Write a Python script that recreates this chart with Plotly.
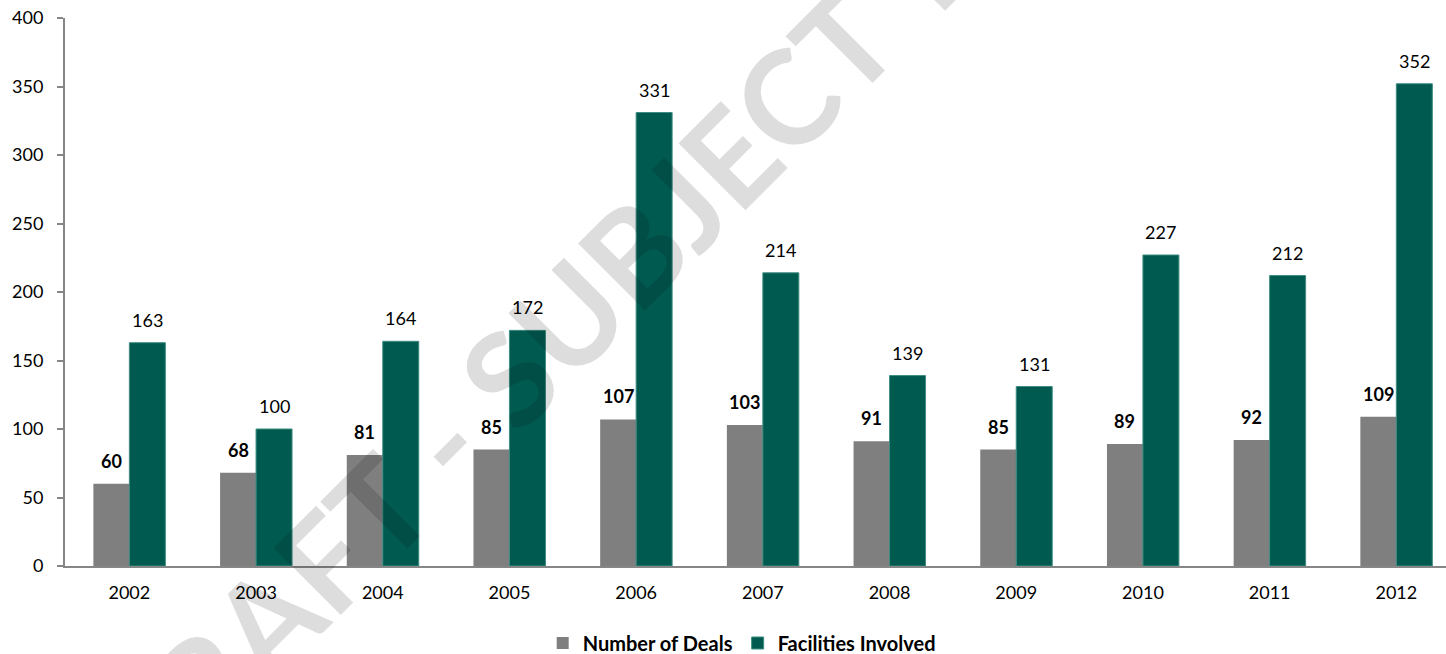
import plotly.graph_objects as go

# Annual deal activity
years = ["2002", "2003", "2004", "2005", "2006", "2007", "2008", "2009", "2010", "2011", "2012"]
number_of_deals = [60, 68, 81, 85, 107, 103, 91, 85, 89, 92, 109]
facilities_involved = [163, 100, 164, 172, 331, 214, 139, 131, 227, 212, 352]

GRAY = "#7f7f7f"
GREEN = "#005a50"
AXIS = "#868686"
FONT = "Lato, 'Open Sans', sans-serif"

x_idx = list(range(len(years)))
bargap = 0.432
half = (1 - bargap) / 4  # offset of each bar centre from the group centre

fig = go.Figure()
fig.add_trace(go.Bar(
    name="Number of Deals", x=x_idx, y=number_of_deals,
    marker=dict(color=GRAY, line=dict(width=0)),
))
fig.add_trace(go.Bar(
    name="Facilities Involved", x=x_idx, y=facilities_involved,
    marker=dict(color=GREEN, line=dict(color="#3d8c82", width=1)),
))

annotations = []
for i, v in enumerate(number_of_deals):
    annotations.append(dict(
        x=i - half, y=v, xref="x", yref="y", text=f"<b>{v}</b>",
        showarrow=False, xanchor="center", yanchor="middle", yshift=23,
        font=dict(family=FONT, size=18, color="#000000"),
    ))
for i, v in enumerate(facilities_involved):
    annotations.append(dict(
        x=i + half, y=v, xref="x", yref="y", text=str(v),
        showarrow=False, xanchor="center", yanchor="middle", yshift=23,
        font=dict(family=FONT, size=18, color="#000000"),
    ))

# Diagonal draft watermark laid over the chart
annotations.append(dict(
    x=0.5075, y=0.8160, xref="paper", yref="paper",
    text="<b>DRAFT - SUBJECT TO CHANGE</b>", showarrow=False,
    xanchor="center", yanchor="middle", textangle=-45,
    font=dict(family=FONT, size=131, color="rgba(0,0,0,0.135)"),
))

fig.update_layout(
    width=1446, height=654,
    margin=dict(l=65, r=0, t=18, b=88, autoexpand=False),
    paper_bgcolor="white", plot_bgcolor="white",
    barmode="group", bargap=bargap, bargroupgap=0,
    font=dict(family=FONT, size=18, color="#000000"),
    showlegend=True,
    legend=dict(
        orientation="h", x=0.490, y=-0.1405, xanchor="center", yanchor="middle",
        font=dict(family=FONT, size=20, color="#000000", weight="bold"),
        itemwidth=30, tracegroupgap=0,
    ),
    annotations=annotations,
)
fig.update_xaxes(
    tickmode="array", tickvals=x_idx, ticktext=years,
    range=[-0.508, 10.392],
    showline=True, linecolor=AXIS, linewidth=2,
    ticks="", showgrid=False, zeroline=False,
    ticklabelstandoff=9,
    tickfont=dict(family=FONT, size=18, color="#000000"),
)
fig.update_yaxes(
    range=[0, 400], tickvals=list(range(0, 401, 50)),
    showline=True, linecolor=AXIS, linewidth=2,
    ticks="outside", ticklen=6, tickwidth=2, tickcolor=AXIS,
    showgrid=False, zeroline=False,
    ticklabelstandoff=10,
    tickfont=dict(family=FONT, size=18, color="#000000"),
)

fig.write_html("out.html")
